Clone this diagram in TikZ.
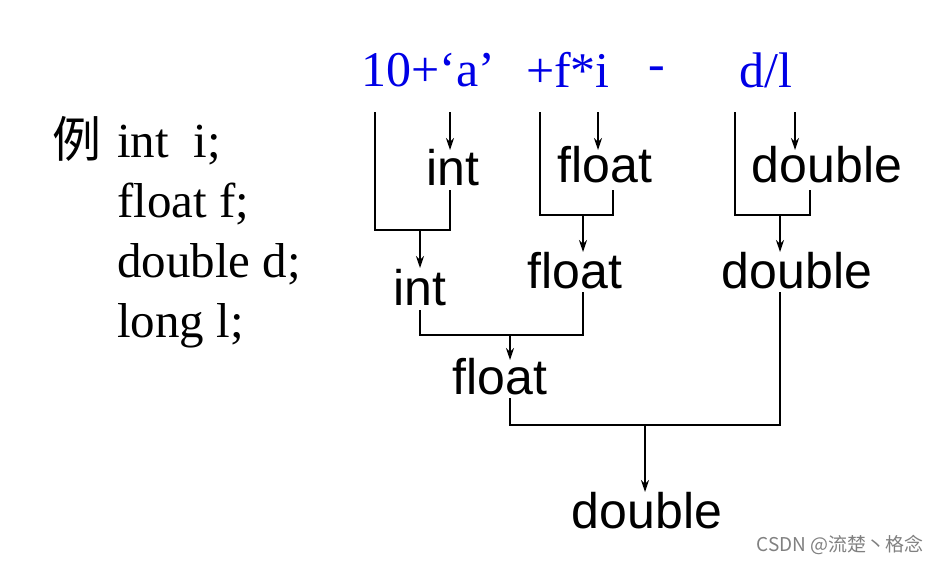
\documentclass[tikz,border=0pt]{standalone}
\usepackage{fontspec}
\setmainfont{Liberation Serif}
\newfontfamily\sfx{Liberation Sans}
\newfontfamily\cjk{Noto Sans CJK SC}
\usetikzlibrary{arrows.meta}
\definecolor{eqblue}{RGB}{0,0,230}
\begin{document}
\begin{tikzpicture}[x=1pt,y=-1pt,
  ty/.style={font=\sfx\fontsize{50}{52}\selectfont,inner sep=0pt},
  ex/.style={font=\fontsize{50}{52}\selectfont\color{eqblue},inner sep=0pt},
  decl/.style={font=\fontsize{49}{52}\selectfont,inner sep=0pt,anchor=base west},
  ln/.style={line width=1.4pt},
  ar/.style={line width=1.4pt,-{Stealth[length=12pt,width=8pt]}}]
\useasboundingbox (0,0) rectangle (941,563);
% expression
\node[ex] (e1) at (428,70) {10+‘a’};
\node[ex] (e2) at (568,70) {+f*i};
\node[ex] (e3) at (657,74) {-};
\node[ex] (e4) at (766,70) {d/l};
% declarations
\node[decl] (d0) at (52,157) {\cjk 例};
\node[decl] (d1) at (117,157) {int\ \ i;};
\node[decl] (d2) at (117,217) {float f;};
\node[decl] (d3) at (117,277) {double d;};
\node[decl] (d4) at (117,337) {long l;};
% types
\node[ty] (t1) at (453,168) {int};
\node[ty] (t2) at (605,165) {float};
\node[ty] (t3) at (827,165) {double};
\node[ty] (t4) at (420,288) {int};
\node[ty] (t5) at (575,271) {float};
\node[ty] (t6) at (797,271) {double};
\node[ty] (t7) at (500,377) {float};
\node[ty] (t8) at (647,511) {double};
% group 1
\draw[ln] (375,112) |- (450,230) -- (450,190);
\draw[ar] (450,112) -- (450,150);
\draw[ar] (420,230) -- (420,268);
% group 2
\draw[ln] (540,112) |- (613,215) -- (613,190);
\draw[ar] (598,112) -- (598,150);
\draw[ar] (583,215) -- (583,252);
% group 3
\draw[ln] (735,112) |- (810,215) -- (810,190);
\draw[ar] (795,112) -- (795,150);
\draw[ar] (780,215) -- (780,252);
% group 4
\draw[ln] (420,310) |- (583,335) -- (583,292);
\draw[ar] (510,335) -- (510,360);
% group 5
\draw[ln] (510,398) |- (780,425) -- (780,292);
\draw[ar] (645,425) -- (645,492);
\node[font=\cjk\fontsize{19}{21}\selectfont,text=gray,inner sep=0pt] (wm) at (840,545) {CSDN @流楚丶格念};
\end{tikzpicture}
\end{document}
